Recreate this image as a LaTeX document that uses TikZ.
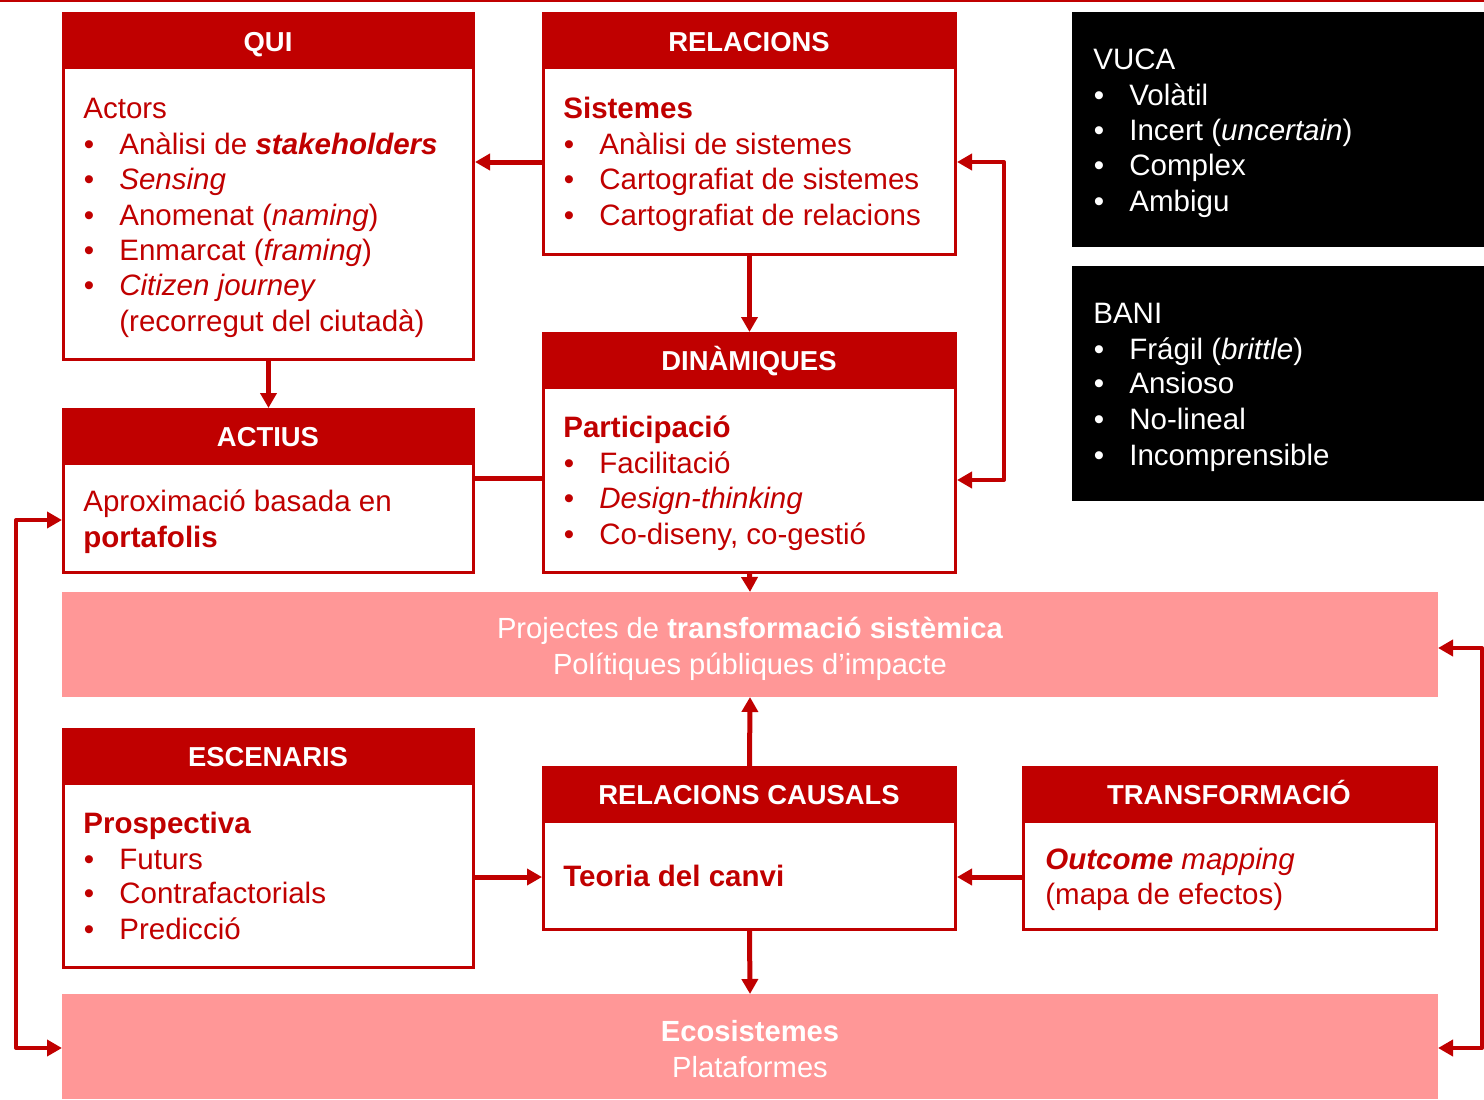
\documentclass[tikz,border=0pt]{standalone}
\usepackage{fontspec}
\setmainfont{Liberation Sans}
\usetikzlibrary{arrows.meta,fit}
\definecolor{cred}{RGB}{192,0,0}
\definecolor{cpink}{RGB}{255,151,151}
\newcommand\fs{\fontsize{16.8}{20}\selectfont}
\newcommand\fb{\fontsize{16.6}{20}\selectfont}
\newcommand\fh{\fontsize{15.6}{18}\selectfont\bfseries}
\begin{document}
\begin{tikzpicture}[x=0.02cm,y=-0.02cm,
  box/.style={draw=cred, line width=0.06cm, inner sep=0pt},
  hdr/.style={fill=cred, inner sep=0pt, outer sep=0pt},
  blk/.style={fill=black, inner sep=0pt, outer sep=0pt},
  band/.style={fill=cpink, inner sep=0pt, outer sep=0pt},
  ht/.style={anchor=base, text=white, font=\fh, inner sep=0pt},
  tx/.style={anchor=base west, inner sep=0pt, text=cred, font=\fs},
  bu/.style={anchor=base, inner sep=0pt, text=cred, font=\fs},
  wt/.style={anchor=base west, inner sep=0pt, text=white, font=\fs},
  wb/.style={anchor=base, inner sep=0pt, text=white, font=\fs},
  ct/.style={anchor=base, inner sep=0pt, text=white, font=\fb},
  arr/.style={draw=cred, line width=0.1cm, -{Triangle[length=0.3cm,width=0.32cm]}},
  conn/.style={draw=cred, line width=0.1cm},
  lp/.style={draw=cred, line width=0.08cm, line join=round, {Triangle[length=0.3cm,width=0.32cm]}-{Triangle[length=0.3cm,width=0.32cm]}}
]
\useasboundingbox (0,0) rectangle (1484,1099);
\draw[cred, line width=0.04cm] (0,1) -- (1484,1);

% boxes
\node[box, fit={(63.5,13.5) (473.5,359)}] (qui) {};
\node[hdr, fit={(62,12) (475,69)}] (quih) {};
\node[box, fit={(543.5,13.5) (955.5,254)}] (rel) {};
\node[hdr, fit={(542,12) (957,69)}] (relh) {};
\node[box, fit={(543.5,333.5) (955.5,572)}] (din) {};
\node[hdr, fit={(542,332) (957,389)}] (dinh) {};
\node[box, fit={(63.5,409.5) (473.5,572)}] (act) {};
\node[hdr, fit={(62,408) (475,465)}] (acth) {};
\node[blk, fit={(1072,12) (1484,247)}] (vuca) {};
\node[blk, fit={(1072,266) (1484,501)}] (bani) {};
\node[band, fit={(62,592) (1438,697)}] (band1) {};
\node[box, fit={(63.5,729.5) (473.5,967)}] (esc) {};
\node[hdr, fit={(62,728) (475,785)}] (esch) {};
\node[box, fit={(543.5,767.5) (955.5,929)}] (rc) {};
\node[hdr, fit={(542,766) (957,823)}] (rch) {};
\node[box, fit={(1023.5,767.5) (1436.5,929)}] (tr) {};
\node[hdr, fit={(1022,766) (1438,823)}] (trh) {};
\node[band, fit={(62,994) (1438,1099)}] (band2) {};

% header texts
\node[ht] (quit) at (268,51) {QUI};
\node[ht] (relt) at (749,51) {RELACIONS};
\node[ht] (dint) at (749,370) {DINÀMIQUES};
\node[ht] (actt) at (268,446) {ACTIUS};
\node[ht] (esct) at (268,766) {ESCENARIS};
\node[ht] (rct) at (749,804) {RELACIONS CAUSALS};
\node[ht] (trt) at (1229,804) {TRANSFORMACIÓ};

% QUI
\node[tx] (q0) at (83,118) {Actors};
\node[bu] (qb1) at (89,154) {•};
\node[tx] (q1) at (119,154) {Anàlisi de \textbf{\textit{stakeholders}}};
\node[bu] (qb2) at (89,189) {•};
\node[tx] (q2) at (119,189) {\textit{Sensing}};
\node[bu] (qb3) at (89,225) {•};
\node[tx] (q3) at (119,225) {Anomenat (\textit{naming})};
\node[bu] (qb4) at (89,260) {•};
\node[tx] (q4) at (119,260) {Enmarcat (\textit{framing})};
\node[bu] (qb5) at (89,295) {•};
\node[tx] (q5) at (119,295) {\textit{Citizen journey}};
\node[tx] (q6) at (119,331) {(recorregut del ciutadà)};

% RELACIONS
\node[tx] (r0) at (563,118) {\textbf{Sistemes}};
\node[bu] (rb1) at (569,154) {•};
\node[tx] (r1) at (599,154) {Anàlisi de sistemes};
\node[bu] (rb2) at (569,189) {•};
\node[tx] (r2) at (599,189) {Cartografiat de sistemes};
\node[bu] (rb3) at (569,225) {•};
\node[tx] (r3) at (599,225) {Cartografiat de relacions};

% DINAMIQUES
\node[tx] (d0) at (563,437) {\textbf{Participació}};
\node[bu] (db1) at (569,473) {•};
\node[tx] (d1) at (599,473) {Facilitació};
\node[bu] (db2) at (569,508) {•};
\node[tx] (d2) at (599,508) {\textit{Design-thinking}};
\node[bu] (db3) at (569,544) {•};
\node[tx] (d3) at (599,544) {Co-diseny, co-gestió};

% ACTIUS
\node[tx] (a0) at (83,511) {Aproximació basada en};
\node[tx] (a1) at (83,547) {\textbf{portafolis}};

% VUCA
\node[wt] (v0) at (1093,69) {VUCA};
\node[wb] (vb1) at (1099,105) {•};
\node[wt] (v1) at (1129,105) {Volàtil};
\node[wb] (vb2) at (1099,140) {•};
\node[wt] (v2) at (1129,140) {Incert (\textit{uncertain})};
\node[wb] (vb3) at (1099,175) {•};
\node[wt] (v3) at (1129,175) {Complex};
\node[wb] (vb4) at (1099,211) {•};
\node[wt] (v4) at (1129,211) {Ambigu};

% BANI
\node[wt] (n0) at (1093,323) {BANI};
\node[wb] (nb1) at (1099,359) {•};
\node[wt] (n1) at (1129,359) {Frágil (\textit{brittle})};
\node[wb] (nb2) at (1099,393) {•};
\node[wt] (n2) at (1129,393) {Ansioso};
\node[wb] (nb3) at (1099,429) {•};
\node[wt] (n3) at (1129,429) {No-lineal};
\node[wb] (nb4) at (1099,465) {•};
\node[wt] (n4) at (1129,465) {Incomprensible};

% band 1
\node[ct] (p0) at (750,638) {Projectes de \textbf{transformació sistèmica}};
\node[ct] (p1) at (750,674) {Polítiques públiques d’impacte};

% ESCENARIS
\node[tx] (e0) at (83,833) {\textbf{Prospectiva}};
\node[bu] (eb1) at (89,869) {•};
\node[tx] (e1) at (119,869) {Futurs};
\node[bu] (eb2) at (89,903) {•};
\node[tx] (e2) at (119,903) {Contrafactorials};
\node[bu] (eb3) at (89,939) {•};
\node[tx] (e3) at (119,939) {Predicció};

% RC
\node[tx] (c0) at (563,886) {\textbf{Teoria del canvi}};

% TR
\node[tx] (t0) at (1045,869) {\textbf{\textit{Outcome}} \textit{mapping}};
\node[tx] (t1) at (1045,904) {(mapa de efectos)};

% band 2
\node[ct] (s0) at (750,1041) {\textbf{Ecosistemes}};
\node[ct] (s1) at (750,1077) {Plataformes};

% connectors
\draw[arr] (rel.west |- 0,162) -- (qui.east |- 0,162);
\draw[arr] (rel.south) -- (din.north);
\draw[lp] (rel.east |- 0,162) -- ++(47,0) |- (din.east |- 0,480);
\draw[arr] (qui.south) -- (act.north);
\draw[conn] (act.east |- 0,478) -- (din.west |- 0,478);
\draw[arr] (din.south) -- (band1.north);
\draw[arr] (rc.north) -- (band1.south);
\draw[arr] (rc.south) -- (band2.north);
\draw[arr] (esc.east |- 0,877) -- (rc.west |- 0,877);
\draw[arr] (tr.west |- 0,877) -- (rc.east |- 0,877);
\draw[lp] (act.west |- 0,520) -- ++(-46,0) |- (band2.west |- 0,1048);
\draw[lp] (band1.east |- 0,648) -- ++(44,0) |- (band2.east |- 0,1048);
\end{tikzpicture}
\end{document}
